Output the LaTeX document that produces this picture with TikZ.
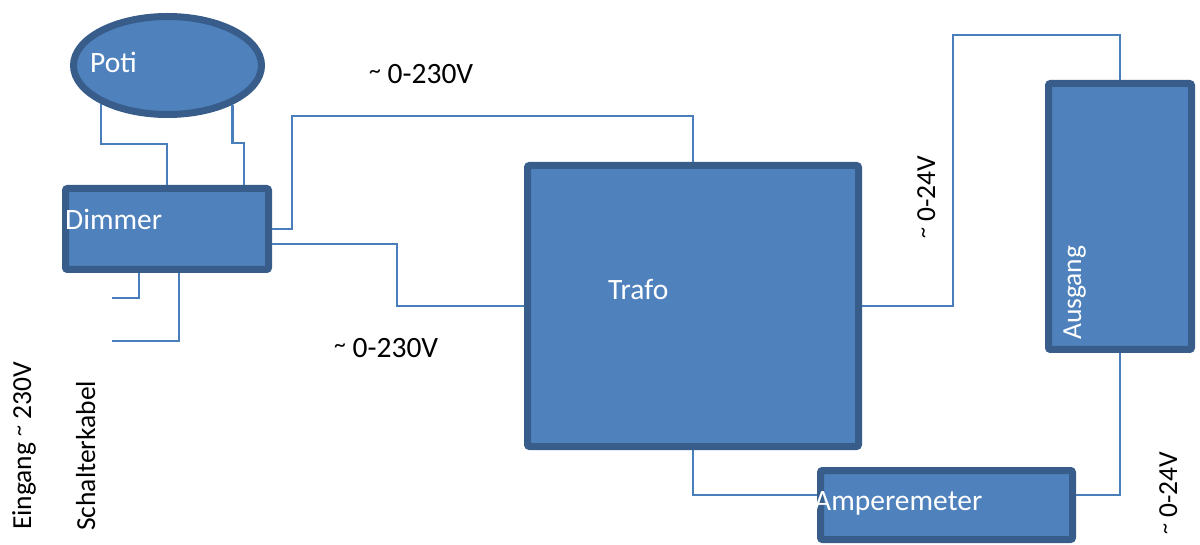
\documentclass[tikz,border=0pt]{standalone}
\usepackage{fontspec}
\setmainfont{Carlito}
\usepackage{graphicx}
\usepackage{tikz}
\usetikzlibrary{positioning}
\usetikzlibrary{shapes.geometric}
\definecolor{boxfill}{HTML}{4F81BD}
\definecolor{boxedge}{HTML}{385D8A}
\definecolor{wirecol}{HTML}{4A7EBB}
\newcommand{\tld}{\raisebox{0.2em}{\scalebox{0.8}{\textasciitilde}}}
\tikzset{block/.style={rectangle, draw=boxedge, fill=boxfill, line width=7pt, rounded corners=2pt}}
\tikzset{wire/.style={draw=wirecol, line width=2.5pt}}
\tikzset{lbl/.style={inner sep=0pt, font=\fontsize{29.5}{35}\selectfont}}
\tikzset{sidelbl/.style={inner sep=0pt, rotate=90, anchor=base west, font=\fontsize{27.5}{33}\selectfont}}

\begin{document}
\begin{tikzpicture}[x=1pt, y=-1pt]
        \useasboundingbox (0,0) rectangle (1200,545);
        \node [ellipse, draw=boxedge, fill=boxfill, line width=7pt, inner sep=0pt, minimum width=188pt, minimum height=98pt](poti) at (167.5,65.5){};
        \node [block, minimum width=203pt, minimum height=81pt](dimmer) at (167,229){};
        \node [block, minimum width=331pt, minimum height=281pt](trafo) at (693,306){};
        \node [block, minimum width=143pt, minimum height=266pt](ausgang) at (1120,216.5){};
        \node [block, minimum width=252pt, minimum height=69pt](amp) at (946.5,505){};

        \node [lbl, text=white, anchor=base west](potitext) at (90,73){Poti};
        \node [lbl, text=white, anchor=base west](dimmertext) at (65,230){Dimmer};
        \node [lbl, text=white, anchor=base west](trafotext) at (608,300){Trafo};
        \node [lbl, text=white, anchor=base west](amptext) at (814,510){Amperemeter};
        \node [sidelbl, text=white](ausgangtext) at (1081,340){Ausgang};

        \node [lbl, anchor=base west](uptop) at (369,84){\tld{} 0-230V};
        \node [lbl, anchor=base west](uplow) at (334,358){\tld{} 0-230V};
        \node [sidelbl](outtop) at (935,239){\tld{} 0-24V};
        \node [sidelbl](outlow) at (1177,535){\tld{} 0-24V};
        \node [sidelbl](eingang) at (31,530){Eingang \tld{} 230V};
        \node [sidelbl](schalter) at (95,531){Schalterkabel};

        \coordinate (inupper) at (112,298);
        \coordinate (inlower) at (112,341);

        \draw [wire] (poti.210) |- (167,144) -- (dimmer.north);
        \draw [wire] (poti.329) |- (244,143) -- ([xshift=77pt]dimmer.north);
        \draw [wire] ([xshift=-28pt]dimmer.south) |- (inupper);
        \draw [wire] ([xshift=12pt]dimmer.south) |- (inlower);
        \draw [wire] (dimmer.east) -| (292,116) -| (trafo.north);
        \draw [wire] ([yshift=-15pt]dimmer.east) -| (397,306) -- (trafo.west);
        \draw [wire] (trafo.east) -| (953,35) -| (ausgang.north);
        \draw [wire] (trafo.south) |- ([yshift=10pt]amp.west);
        \draw [wire] ([yshift=10pt]amp.east) -| (ausgang.south);
\end{tikzpicture}
\end{document}
